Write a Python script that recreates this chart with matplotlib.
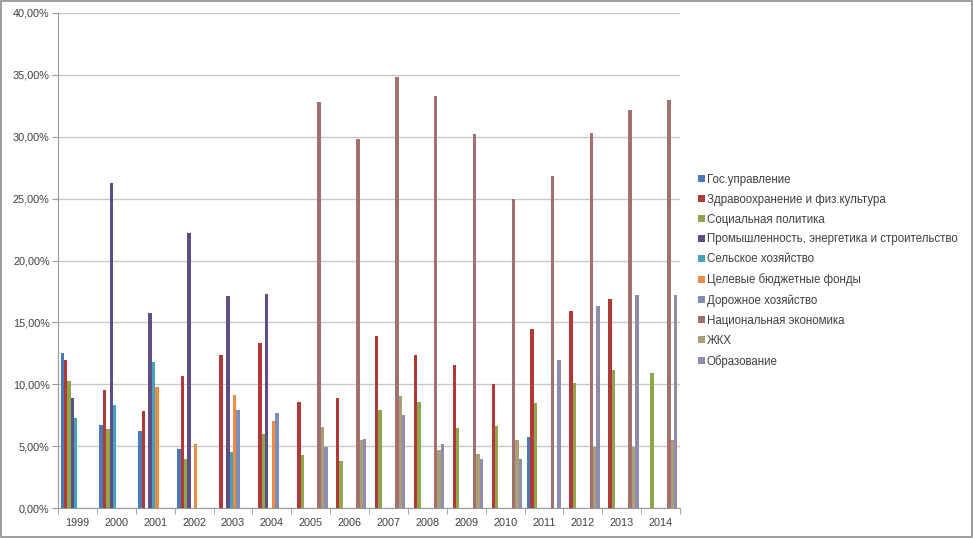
import numpy as np
import matplotlib
matplotlib.use("Agg")
import matplotlib.pyplot as plt
from matplotlib.patches import Rectangle

# data (shares, %)
years = ["1999", "2000", "2001", "2002", "2003", "2004", "2005", "2006",
         "2007", "2008", "2009", "2010", "2011", "2012", "2013", "2014"]

gos_upr = [12.5, 6.7, 6.2, 4.8, 0, 0, 0, 0, 0, 0, 0, 0, 5.7, 0, 0, 0]
zdrav = [12.0, 9.5, 7.8, 10.7, 12.4, 13.35, 8.6, 8.9, 13.9, 12.35, 11.55, 10.0, 14.5, 15.9, 16.9, 0]
soc_pol = [10.3, 6.4, 0, 4.0, 0, 6.0, 4.3, 3.8, 7.9, 8.6, 6.45, 6.6, 8.5, 10.1, 11.15, 10.9]
prom = [8.9, 26.25, 15.75, 22.2, 17.15, 17.3, 0, 0, 0, 0, 0, 0, 0, 0, 0, 0]
selhoz = [7.3, 8.3, 11.8, 0, 4.55, 0, 0, 0, 0, 0, 0, 0, 0, 0, 0, 0]
fondy = [0, 0, 9.8, 5.2, 9.1, 7.05, 0, 0, 0, 0, 0, 0, 0, 0, 0, 0]
doroga = [0, 0, 0, 0, 7.9, 7.65, 0, 0, 0, 0, 0, 0, 0, 0, 0, 0]
nac_ek = [0, 0, 0, 0, 0, 0, 32.8, 29.85, 34.8, 33.3, 30.2, 25.0, 26.8, 30.3, 32.15, 32.95]
zhkh = [0, 0, 0, 0, 0, 0, 6.55, 5.5, 9.05, 4.7, 4.35, 5.5, 0, 4.95, 4.95, 5.5]
obraz = [0, 0, 0, 0, 0, 0, 4.95, 5.6, 7.5, 5.2, 3.95, 4.0, 12.0, 16.3, 17.25, 17.25]

series_names = ["Гос.управление", "Здравоохранение и физ.культура", "Социальная политика",
                "Промышленность, энергетика и строительство", "Сельское хозяйство",
                "Целевые бюджетные фонды", "Дорожное хозяйство", "Национальная экономика",
                "ЖКХ", "Образование"]
series_vals = [gos_upr, zdrav, soc_pol, prom, selhoz, fondy, doroga, nac_ek, zhkh, obraz]
colors = ["#4a7ab5", "#b03a38", "#8fa64c", "#5f4d86", "#43a3bc",
          "#ec8c42", "#7d8db5", "#a46f6f", "#a9a07a", "#8f8cae"]

plt.rcParams['font.family'] = ['Liberation Sans', 'DejaVu Sans']

fig = plt.figure(figsize=(9.74, 5.38), dpi=100)
ax = fig.add_axes([58 / 974, 1 - 508 / 538, 622 / 974, 495 / 538])

x = np.arange(len(years))
n = len(series_vals)
w = 1 / (n + 1.5)
for i in range(n):
    vals = np.array(series_vals[i]) / 100.0
    ax.bar(x + (i - (n - 1) / 2) * w, vals, width=w, color=colors[i],
           label=series_names[i], zorder=3)

ax.set_xlim(-0.5, len(years) - 0.5)
ax.set_ylim(0, 0.40)
ax.set_yticks(np.arange(0, 0.401, 0.05))
ax.set_yticklabels(["{:.2f}%".format(v * 100).replace(".", ",") for v in np.arange(0, 0.401, 0.05)])
ax.yaxis.grid(True, color="#c8c8c8", linewidth=1)
ax.set_axisbelow(True)

ax.set_xticks(x)
ax.set_xticklabels(years)
ax.set_xticks(np.arange(-0.5, len(years), 1), minor=True)
ax.tick_params(axis="x", which="major", length=0, pad=7, labelsize=7.8, colors="#404040")
ax.tick_params(axis="x", which="minor", length=4, color="#999999")
ax.tick_params(axis="y", length=4, pad=2, color="#999999", labelsize=7.8, labelcolor="#404040")

for s in ["top", "right"]:
    ax.spines[s].set_visible(False)
ax.spines["left"].set_color("#999999")
ax.spines["bottom"].set_color("#999999")

# legend on the right
leg = fig.legend(loc="upper left", bbox_to_anchor=(693 / 974, 1 - 169 / 538),
                 frameon=False, fontsize=8.3, handlelength=0.6, handleheight=0.6,
                 handletextpad=0.2, labelspacing=0.69, borderaxespad=0)
for t in leg.get_texts():
    t.set_color("#404040")

# outer chart border
fig.patches.append(Rectangle((0.001, 0.002), 0.997, 0.996, transform=fig.transFigure,
                             fill=False, edgecolor="#8c8c8c", linewidth=1.2))

fig.savefig("out.png", dpi=100)
